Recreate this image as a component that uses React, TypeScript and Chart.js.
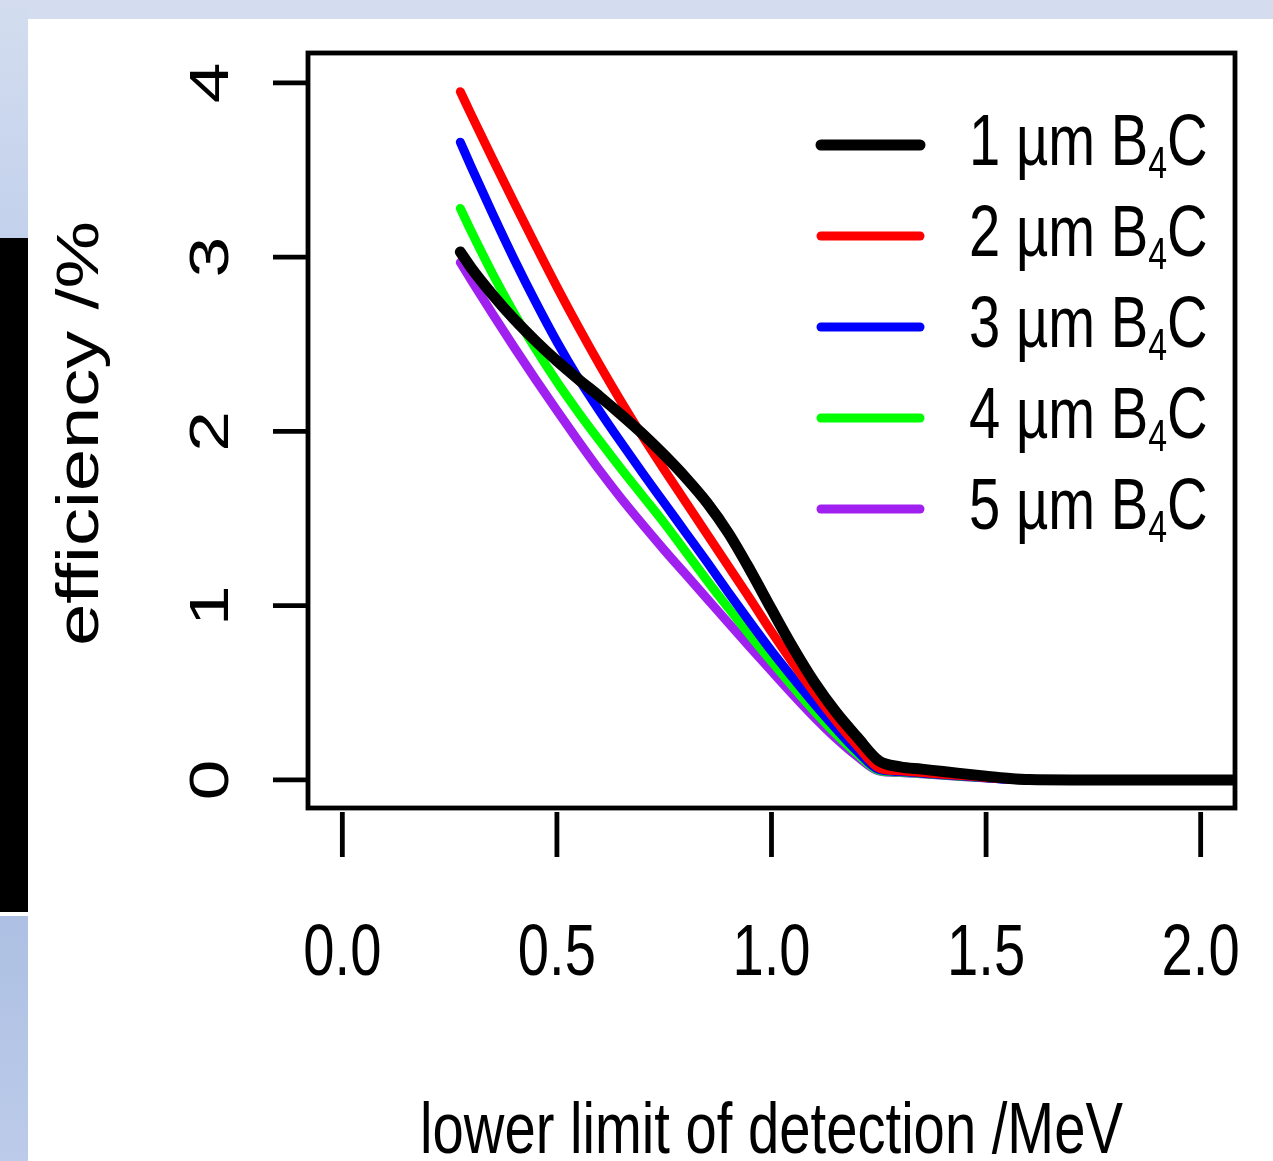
import React, { useEffect, useRef } from "react";
import { Chart, registerables } from "chart.js";

Chart.register(...registerables);

// ---------- data ----------
const xValues = [
  0.275, 0.3, 0.35, 0.4, 0.45, 0.5, 0.55, 0.6, 0.65, 0.7, 0.75, 0.8, 0.85, 0.9, 0.95, 1.0,
  1.05, 1.1, 1.15, 1.2, 1.25, 1.3, 1.35, 1.4, 1.45, 1.5, 1.55, 1.6, 1.7, 1.8, 1.9, 2.0, 2.1,
];
const eff1um = [
  3.03, 2.94, 2.785, 2.645, 2.52, 2.405, 2.3, 2.2, 2.095, 1.985, 1.865, 1.735, 1.59, 1.415, 1.205,
  0.98, 0.76, 0.56, 0.39, 0.245, 0.11, 0.075, 0.062, 0.048, 0.035, 0.022, 0.01, 0.002, 0, 0, 0, 0, 0,
];
const eff2um = [
  3.95, 3.82, 3.565, 3.315, 3.07, 2.83, 2.6, 2.38, 2.17, 1.97, 1.78, 1.595, 1.41, 1.225, 1.04,
  0.85, 0.67, 0.5, 0.34, 0.195, 0.07, 0.052, 0.042, 0.033, 0.024, 0.014, 0.005, 0, 0, 0, 0, 0, 0,
];
const eff3um = [
  3.66, 3.52, 3.25, 2.99, 2.745, 2.515, 2.305, 2.115, 1.935, 1.76, 1.59, 1.42, 1.25, 1.075, 0.905,
  0.74, 0.585, 0.435, 0.295, 0.165, 0.06, 0.048, 0.039, 0.03, 0.021, 0.012, 0.004, 0, 0, 0, 0, 0, 0,
];
const eff4um = [
  3.28, 3.15, 2.905, 2.68, 2.475, 2.285, 2.11, 1.945, 1.785, 1.63, 1.475, 1.31, 1.145, 0.985, 0.83,
  0.68, 0.535, 0.395, 0.265, 0.15, 0.055, 0.045, 0.037, 0.028, 0.02, 0.012, 0.004, 0, 0, 0, 0, 0, 0,
];
const eff5um = [
  2.97, 2.87, 2.675, 2.485, 2.3, 2.12, 1.945, 1.775, 1.615, 1.465, 1.32, 1.18, 1.04, 0.9, 0.762,
  0.625, 0.49, 0.36, 0.24, 0.135, 0.052, 0.042, 0.035, 0.027, 0.019, 0.011, 0.004, 0, 0, 0, 0, 0, 0,
];
const thicknesses = ["1", "2", "3", "4", "5"];
const seriesValues = [eff1um, eff2um, eff3um, eff4um, eff5um];
const seriesColors = ["#000000", "#ff0000", "#0000ff", "#00ff00", "#a020f0"];
const seriesWidths = [11, 9, 9, 9, 9];

const xTicks = [0, 0.5, 1, 1.5, 2];
const xTickLabels = ["0.0", "0.5", "1.0", "1.5", "2.0"];
const yTicks = [0, 1, 2, 3, 4];
const yTickLabels = ["0", "1", "2", "3", "4"];
const xTitle = "lower limit of detection /MeV";
const yTitle = "efficiency /%";

// ---------- drawing helpers ----------
const W = 1273;
const H = 1161;
const K = 0.77; // horizontal squeeze of the picture
const FONT = '"Liberation Sans", Arial, Helvetica, sans-serif';
const FS = 73;

function drawText(
  ctx: CanvasRenderingContext2D,
  s: string,
  x: number,
  y: number,
  size: number,
  align: CanvasTextAlign,
  rotate = false
): number {
  ctx.save();
  ctx.translate(x, y);
  ctx.scale(K, 1);
  if (rotate) ctx.rotate(-Math.PI / 2);
  ctx.font = `${size}px ${FONT}`;
  ctx.textAlign = align;
  ctx.textBaseline = "alphabetic";
  ctx.fillStyle = "#000";
  ctx.fillText(s, 0, 0);
  const w = ctx.measureText(s).width;
  ctx.restore();
  return w * K;
}

const decorPlugin = {
  id: "decor",
  beforeDraw(chart: any) {
    const ctx: CanvasRenderingContext2D = chart.ctx;
    ctx.save();
    ctx.fillStyle = "#ffffff";
    ctx.fillRect(0, 0, W, H);
    ctx.fillStyle = "#d3ddef";
    ctx.fillRect(0, 0, W, 19);
    let g = ctx.createLinearGradient(0, 0, 0, 238);
    g.addColorStop(0, "#d3ddef");
    g.addColorStop(1, "#c3d1ec");
    ctx.fillStyle = g;
    ctx.fillRect(0, 0, 28, 238);
    ctx.fillStyle = "#000000";
    ctx.fillRect(0, 238, 28, 674);
    g = ctx.createLinearGradient(0, 916, 0, H);
    g.addColorStop(0, "#adc0e3");
    g.addColorStop(1, "#bccbe9");
    ctx.fillStyle = g;
    ctx.fillRect(0, 916, 28, H - 916);
    ctx.restore();
  },
  afterDatasetsDraw(chart: any) {
    const ctx: CanvasRenderingContext2D = chart.ctx;
    const area = chart.chartArea;
    const xs = chart.scales.x;
    const ys = chart.scales.y;
    ctx.save();
    ctx.strokeStyle = "#000";
    ctx.lineWidth = 4.8;
    ctx.lineCap = "butt";
    ctx.lineJoin = "miter";
    ctx.strokeRect(area.left, area.top, area.right - area.left, area.bottom - area.top);
    xTicks.forEach((v, i) => {
      const px = xs.getPixelForValue(v);
      ctx.beginPath();
      ctx.moveTo(px, area.bottom + 4);
      ctx.lineTo(px, area.bottom + 49);
      ctx.stroke();
      drawText(ctx, xTickLabels[i], px, 975, FS, "center");
    });
    yTicks.forEach((v, i) => {
      const py = ys.getPixelForValue(v);
      ctx.beginPath();
      ctx.moveTo(area.left - 35, py);
      ctx.lineTo(area.left, py);
      ctx.stroke();
      drawText(ctx, yTickLabels[i], 228, py, FS, "center", true);
    });
    drawText(ctx, xTitle, (area.left + area.right) / 2, 1153, FS, "center");
    drawText(ctx, yTitle, 98, (area.top + area.bottom) / 2 + 3, 76, "center", true);
    ctx.lineCap = "round";
    thicknesses.forEach((t, i) => {
      const ly = 145 + i * 91;
      ctx.strokeStyle = seriesColors[i];
      ctx.lineWidth = seriesWidths[i];
      ctx.beginPath();
      ctx.moveTo(821, ly);
      ctx.lineTo(920, ly);
      ctx.stroke();
      let x = 969;
      const base = ly + 20;
      x += drawText(ctx, `${t} µm B`, x, base, FS, "left");
      x += drawText(ctx, "4", x, base + 13, 44, "left");
      drawText(ctx, "C", x, base, FS, "left");
    });
    ctx.restore();
  },
};

export default function App() {
  const ref = useRef<HTMLCanvasElement | null>(null);
  useEffect(() => {
    if (!ref.current) return;
    const datasets = seriesValues.map((vals, i) => ({
      label: `${thicknesses[i]} µm B4C`,
      data: xValues.map((x, j) => ({ x, y: vals[j] })),
      borderColor: seriesColors[i],
      backgroundColor: seriesColors[i],
      borderWidth: seriesWidths[i],
      pointRadius: 0,
      fill: false,
      cubicInterpolationMode: "monotone" as const,
      borderCapStyle: "round" as const,
      borderJoinStyle: "round" as const,
      clip: 0,
    }));
    const chart = new Chart(ref.current, {
      type: "line",
      data: { datasets },
      options: {
        animation: false,
        responsive: false,
        events: [],
        layout: { padding: { left: 308, top: 53, right: W - 1235, bottom: H - 808 } },
        plugins: { legend: { display: false }, tooltip: { enabled: false } },
        scales: {
          x: { type: "linear", min: -0.08, max: 2.08, display: false },
          y: { type: "linear", min: -0.161, max: 4.172, display: false },
        },
      },
      plugins: [decorPlugin],
    });
    return () => chart.destroy();
  }, []);
  return (
    <div style={{ position: "absolute", left: 0, top: 0, width: W, height: H }}>
      <canvas ref={ref} width={W} height={H} style={{ display: "block", width: W, height: H }} />
    </div>
  );
}
